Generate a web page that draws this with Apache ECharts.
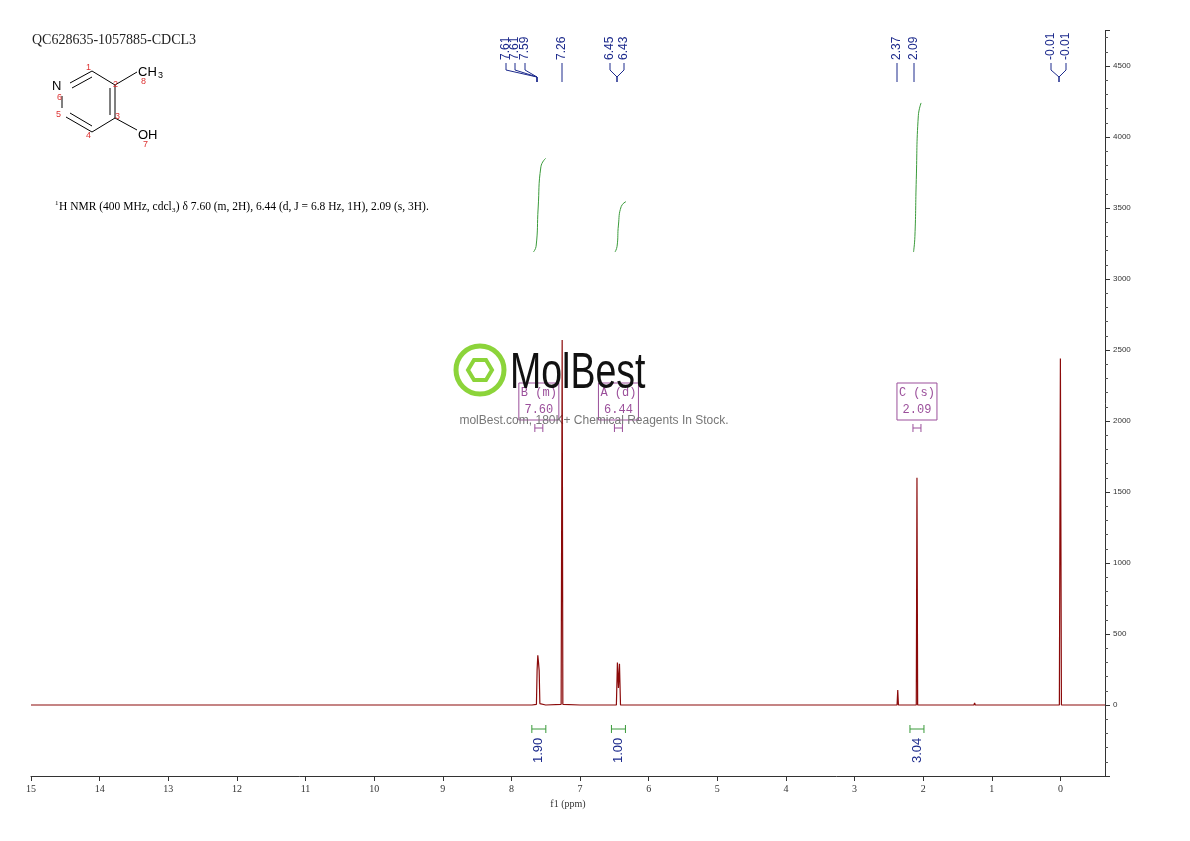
<!DOCTYPE html>
<html>
<head>
<meta charset="utf-8">
<script src="https://cdn.jsdelivr.net/npm/echarts@6/dist/echarts.min.js"></script>
<style>html,body{margin:0;background:#fff}#c{width:1190px;height:841px}</style>
</head>
<body>
<div id="c"></div>
<script>
// spectrum points [ppm, intensity]
var spectrum = [
  [15.0, 0], [12.0, 0], [9.0, 0], [7.70, 0], [7.635, 5], [7.625, 250], [7.615, 350], [7.605, 300], [7.595, 240], [7.585, 10],
  [7.50, 0], [7.275, 5], [7.26, 2570], [7.25, 5], [7.0, 0], [6.47, 0], [6.455, 300], [6.44, 120], [6.425, 290], [6.41, 0],
  [5.0, 0], [2.38, 0], [2.37, 105], [2.36, 0], [2.10, 0], [2.09, 1600], [2.08, 0], [1.26, 0], [1.25, 15], [1.24, 0],
  [0.015, 0], [0.0, 2440], [-0.015, 0], [-0.65, 0]
];
var integral1 = [[7.68, 3190], [7.64, 3230], [7.61, 3500], [7.57, 3790], [7.50, 3850]];
var integral2 = [[6.49, 3190], [6.46, 3230], [6.44, 3380], [6.40, 3510], [6.33, 3545]];
var integral3 = [[2.14, 3190], [2.12, 3300], [2.10, 3700], [2.07, 4150], [2.03, 4240]];
var xTicks = [0, 1, 2, 3, 4, 5, 6, 7, 8, 9, 10, 11, 12, 13, 14, 15];
var peakLabels = [['7.61', 506], ['7.61', 515], ['7.59', 525], ['7.26', 562], ['6.45', 610], ['6.43', 624],
  ['2.37', 897], ['2.09', 914], ['-0.01', 1051], ['-0.01', 1066]];
var peakTargets = [537, 537, 537, 562, 617, 617, 897, 914, 1059, 1059];
var integralValues = [['1.90', 7.60], ['1.00', 6.44], ['3.04', 2.09]];
var multiplets = [['B (m)', '7.60', 7.60], ['A (d)', '6.44', 6.44], ['C (s)', '2.09', 2.09]];

var chart = echarts.init(document.getElementById('c'));
var green = '#3a9a3a', blue = '#1c2a8c', purple = '#9b4f9b';
function intSeries(d) {
  return { type: 'line', data: d, smooth: true, symbol: 'none', lineStyle: { color: green, width: 1 }, silent: true };
}
chart.setOption({
  animation: false,
  grid: { left: 31, right: 85, top: 30.5, bottom: 65 },
  xAxis: {
    type: 'value', inverse: true, min: -0.65, max: 15,
    name: 'f1 (ppm)', nameLocation: 'middle', nameGap: 22,
    nameTextStyle: { fontFamily: 'Liberation Serif', fontSize: 10, color: '#333' },
    axisLine: { onZero: false, lineStyle: { color: '#333' } },
    axisTick: { length: 5, customValues: xTicks, lineStyle: { color: '#333' } },
    splitLine: { show: false },
    axisLabel: { customValues: xTicks, fontFamily: 'Liberation Serif', fontSize: 10, color: '#333', margin: 8 }
  },
  yAxis: {
    type: 'value', position: 'right', min: -500, max: 4750, interval: 500,
    axisLine: { show: true, onZero: false, lineStyle: { color: '#333' } },
    axisTick: { show: true, length: 5, lineStyle: { color: '#333' } },
    minorTick: { show: true, splitNumber: 5, length: 3, lineStyle: { color: '#555' } },
    splitLine: { show: false },
    axisLabel: { fontFamily: 'Liberation Sans', fontSize: 8, color: '#333', showMaxLabel: false,
      formatter: function (v) { return v < 0 ? '' : v; } }
  },
  series: [
    { type: 'line', data: spectrum, symbol: 'none', lineStyle: { color: '#8b0a0a', width: 1.2 }, silent: true },
    intSeries(integral1), intSeries(integral2), intSeries(integral3)
  ]
});

var g = [];
function line(x1, y1, x2, y2, c, w) {
  g.push({ type: 'line', shape: { x1: x1, y1: y1, x2: x2, y2: y2 }, style: { stroke: c || '#000', lineWidth: w || 1 } });
}
function text(t, x, y, o) {
  g.push({ type: 'text', x: x, y: y, rotation: o.rot || 0, scaleX: o.sx || 1,
    style: { text: t, fill: o.color || '#000', font: o.font || '12px Liberation Sans', align: o.align || 'left', verticalAlign: o.va || 'middle' } });
}
// title and description
text('QC628635-1057885-CDCL3', 32, 40, { font: '14px Liberation Serif', color: '#222' });
text('1', 55, 203, { font: '7px Liberation Serif' });
text('H NMR (400 MHz, cdcl\u2083) \u03b4 7.60 (m, 2H), 6.44 (d, J = 6.8 Hz, 1H), 2.09 (s, 3H).', 59, 207, { font: '11.5px Liberation Serif' });
// structure
line(70, 83, 92, 71); line(72, 88, 92, 77); line(92, 71, 115, 85); line(115, 85, 115, 118); line(110, 88, 110, 115);
line(115, 118, 92, 132); line(92, 132, 66, 117); line(92, 126, 70, 113); line(62, 96, 62, 108);
line(115, 85, 137, 72); line(115, 118, 137, 130);
text('N', 52, 86, { font: '13px Liberation Sans' });
text('CH', 138, 72, { font: '13px Liberation Sans' });
text('3', 158, 76, { font: '9px Liberation Sans' });
text('OH', 138, 135, { font: '13px Liberation Sans' });
[['1', 86, 68], ['2', 113, 85], ['8', 141, 82], ['6', 57, 98], ['3', 115, 117], ['5', 56, 115], ['4', 86, 136], ['7', 143, 145]]
  .forEach(function (n) { text(n[0], n[1], n[2], { font: '9px Liberation Sans', color: '#d33' }); });
// peak labels
peakLabels.forEach(function (p, i) {
  text(p[0], p[1], 60, { rot: Math.PI / 2, font: '12px Liberation Sans', color: blue, align: 'left' });
  line(p[1], 63, p[1], 70, blue);
  line(p[1], 70, peakTargets[i], 77, blue);
  line(peakTargets[i], 77, peakTargets[i], 82, blue);
});
// integral labels
integralValues.forEach(function (v) {
  var x = chart.convertToPixel({ xAxisIndex: 0 }, v[1]);
  line(x - 7, 729, x + 7, 729, green); line(x - 7, 725, x - 7, 733, green); line(x + 7, 725, x + 7, 733, green);
  text(v[0], x, 763, { rot: Math.PI / 2, font: '13px Liberation Sans', color: blue });
});
// multiplet boxes
multiplets.forEach(function (m) {
  var x = chart.convertToPixel({ xAxisIndex: 0 }, m[2]);
  g.push({ type: 'rect', shape: { x: x - 20, y: 383, width: 40, height: 37 }, style: { fill: 'rgba(255,255,255,0.6)', stroke: purple, lineWidth: 1 } });
  text(m[0], x, 393, { font: '12px Liberation Mono', color: purple, align: 'center' });
  text(m[1], x, 410, { font: '12px Liberation Mono', color: purple, align: 'center' });
  line(x - 4, 428, x + 4, 428, purple); line(x - 4, 424, x - 4, 432, purple); line(x + 4, 424, x + 4, 432, purple);
});
// watermark
g.push({ type: 'circle', shape: { cx: 480, cy: 370, r: 24 }, style: { fill: 'none', stroke: '#8cd43a', lineWidth: 5 } });
g.push({ type: 'polygon', shape: { points: [[468, 370], [474, 360], [486, 360], [492, 370], [486, 380], [474, 380]] }, style: { fill: 'none', stroke: '#8cd43a', lineWidth: 4 } });
text('MolBest', 510, 374, { font: '50px Liberation Sans', color: '#111', sx: 0.75 });
text('molBest.com, 180K+ Chemical Reagents In Stock.', 594, 421, { font: '12px Liberation Sans', color: '#777', align: 'center' });
chart.setOption({ graphic: g });
</script>
</body>
</html>
